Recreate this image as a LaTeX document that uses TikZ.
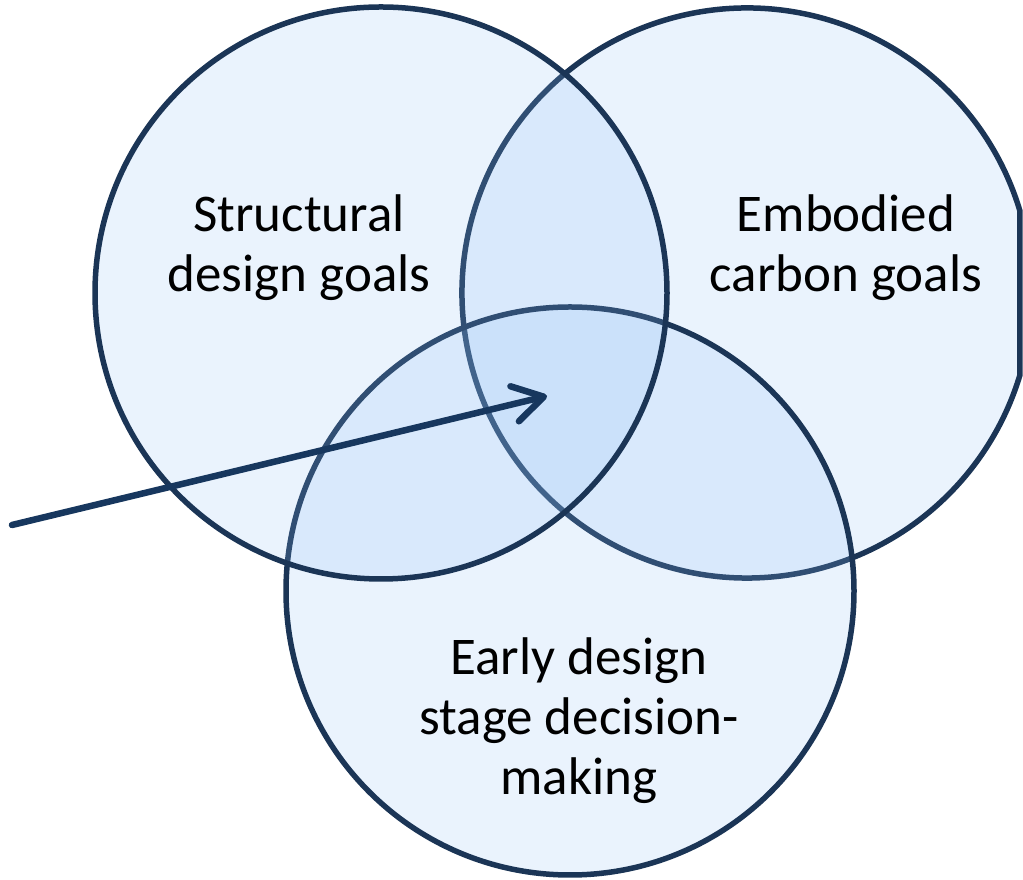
\documentclass[tikz,border=0pt]{standalone}
\usepackage{fontspec}
\setmainfont{Carlito}
\usetikzlibrary{arrows.meta}
\definecolor{ringline}{HTML}{1B3556}
\definecolor{ringfill}{RGB}{143,190,245}
\definecolor{arrowblue}{HTML}{17375E}
\begin{document}
\begin{tikzpicture}[x=1pt,y=1pt,
  ring/.style={draw=ringline, line width=5.5pt, fill=ringfill, fill opacity=0.19},
  ringtext/.style={font=\fontsize{53}{60}\selectfont, align=center, text=black, inner sep=0pt},
  pointer/.style={draw=arrowblue, line width=6.5pt, line cap=round,
    -{Straight Barb[length=30pt,width=36pt,line cap=round,line join=round]}}]
\useasboundingbox (0,0) rectangle (1023,880);
\clip (0,0) rectangle (1023,880);
% centres of the three sets
\coordinate (cs) at (381,587);
\coordinate (cc) at (747,587);
\coordinate (ce) at (570,289);
% carbon goals: cut off by the right edge
\path[ring] (cc) ++(16.72:285) arc[start angle=16.72, end angle=343.28, radius=285] -- cycle;
% early design stage
\path[ring] (ce) circle[radius=284];
% structural design goals
\path[ring] (cs) circle[radius=286];
% set labels
\node[ringtext] (tstruct) at (299,632) {Structural\\design goals};
\node[ringtext] (tcarbon) at (846,632) {Embodied\\carbon goals};
\node[ringtext] (tearly) at (579,159) {Early design\\stage decision-\\making};
% pointer into the common intersection
\coordinate (src) at (12,355);
\coordinate (focus) at (547,484);
\draw[pointer] (src) -- (focus);
\end{tikzpicture}
\end{document}
